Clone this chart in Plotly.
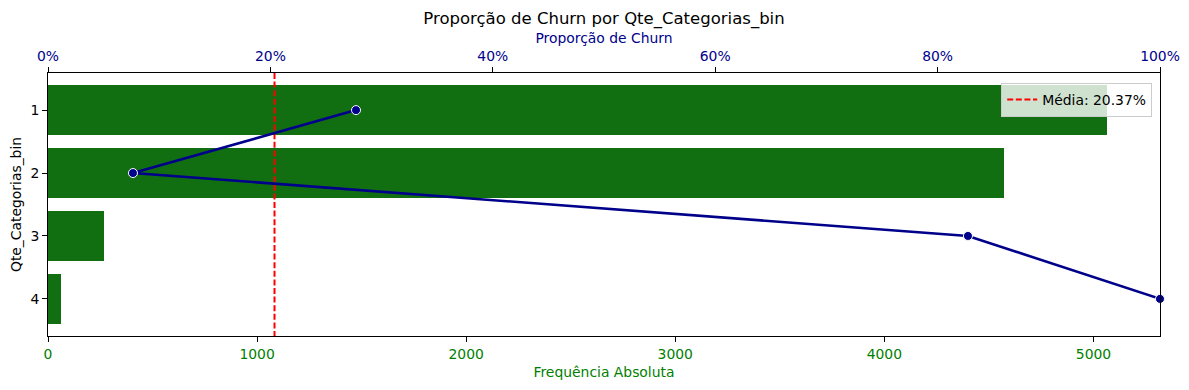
import plotly.graph_objects as go

# ---- data ----
categories = ["1", "2", "3", "4"]
freq_abs = [5065, 4573, 266, 61]
churn_prop = [0.277, 0.0764, 0.8273, 1.0]
mean_churn = 0.2037

FONT = "DejaVu Sans"
BAR_COLOR = "#116f12"
LINE_COLOR = "#00008b"
GREEN_TXT = "#008000"

# the page body has an 8px default margin; compensate so the figure lines up
PAGE_OFF = 8
W, H = 1189 - PAGE_OFF, 390 - PAGE_OFF

y_pos = list(range(len(categories)))
y_lo, y_hi = -0.59, len(categories) - 1 + 0.59
x_max = 1.05 * max(freq_abs)

fig = go.Figure()

fig.add_trace(go.Bar(
    x=freq_abs, y=y_pos, orientation="h", width=0.8,
    marker=dict(color=BAR_COLOR, line=dict(width=0)),
    showlegend=False, xaxis="x", yaxis="y", hoverinfo="x+y",
))

fig.add_trace(go.Scatter(
    x=[mean_churn, mean_churn], y=[y_lo, y_hi], mode="lines",
    line=dict(color="red", width=2, dash="6px,2.6px"),
    name=f"Média: {mean_churn*100:.2f}%",
    xaxis="x2", yaxis="y", showlegend=True,
))

fig.add_trace(go.Scatter(
    x=churn_prop, y=y_pos, mode="lines+markers",
    line=dict(color=LINE_COLOR, width=2.6),
    marker=dict(color=LINE_COLOR, size=9, line=dict(color="white", width=1)),
    showlegend=False, xaxis="x2", yaxis="y", cliponaxis=False,
))

fig.update_layout(
    width=W, height=H,
    margin=dict(l=48 - PAGE_OFF, r=29, t=73 - PAGE_OFF, b=54, autoexpand=False),
    paper_bgcolor="white", plot_bgcolor="white",
    font=dict(family=FONT, size=13.9, color="black"),
    title=dict(text="Proporção de Churn por Qte_Categorias_bin",
               x=0.5, xref="paper", xanchor="center",
               y=1 - (18 - PAGE_OFF) / H, yanchor="middle", yref="container",
               font=dict(size=16.5, color="black")),
    bargap=0,
    xaxis=dict(
        range=[0, x_max], side="bottom", automargin=False,
        showgrid=False, zeroline=False,
        showline=True, linecolor="black", linewidth=1,
        ticks="outside", ticklen=5, tickcolor="black",
        tickfont=dict(color=GREEN_TXT, size=13.9),
        tickvals=[0, 1000, 2000, 3000, 4000, 5000],
        title=dict(text="Frequência Absoluta", font=dict(color=GREEN_TXT, size=13.9), standoff=6),
    ),
    xaxis2=dict(
        range=[0, 1], overlaying="x", side="top", anchor="y", automargin=False,
        showgrid=False, zeroline=False,
        showline=True, linecolor="black", linewidth=1,
        ticks="outside", ticklen=5, tickcolor="black",
        tickformat=".0%", tickvals=[0, 0.2, 0.4, 0.6, 0.8, 1.0],
        tickfont=dict(color=LINE_COLOR, size=13.9),
        title=dict(text="Proporção de Churn", font=dict(color=LINE_COLOR, size=13.9), standoff=1),
    ),
    yaxis=dict(
        range=[y_hi, y_lo], automargin=False,
        tickvals=y_pos, ticktext=categories,
        showgrid=False, zeroline=False,
        showline=True, mirror=True, linecolor="black", linewidth=1,
        ticks="outside", ticklen=5, tickcolor="black",
        tickfont=dict(color="black", size=13.9),
        title=dict(text="Qte_Categorias_bin", font=dict(color="black", size=13.9), standoff=8),
    ),
    legend=dict(
        x=0.993, xanchor="right", y=0.962, yanchor="top",
        bgcolor="rgba(255,255,255,0.8)", bordercolor="#cccccc", borderwidth=1,
        font=dict(size=13.9, color="black"),
    ),
)

fig.write_html("out.html")
